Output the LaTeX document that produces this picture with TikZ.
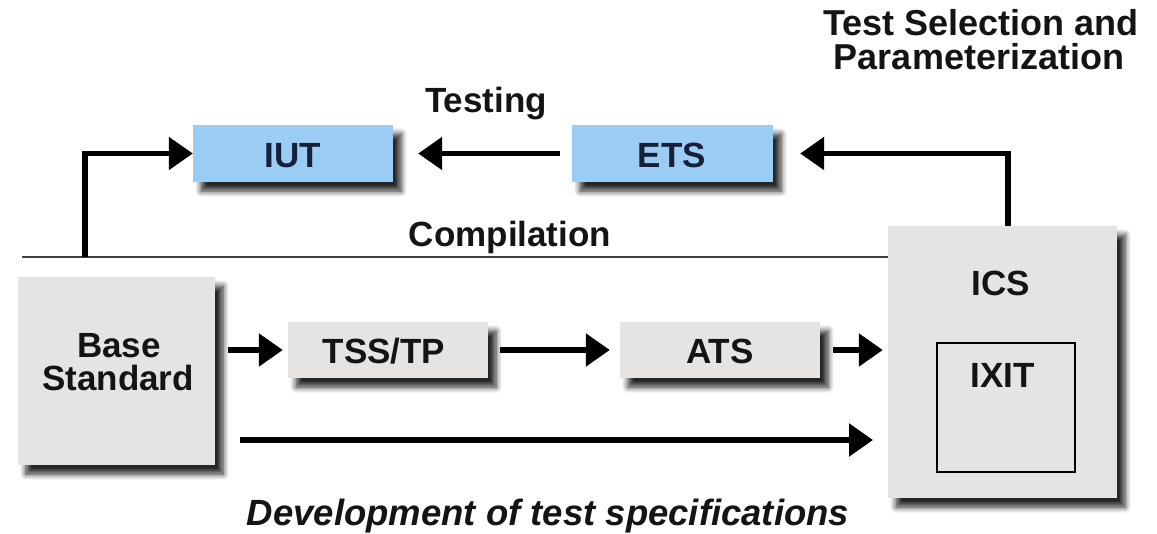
\documentclass[tikz,border=0pt]{standalone}
\usepackage{fontspec}
\setmainfont{Liberation Sans}
\usetikzlibrary{arrows.meta,shadows.blur}
\definecolor{boxblue}{RGB}{155,204,244}
\definecolor{boxgrey}{RGB}{230,228,226}
\definecolor{navytext}{RGB}{22,32,58}
\definecolor{inktext}{RGB}{20,20,20}
\tikzset{
  shade box/.style={inner sep=0pt, blur shadow={shadow xshift=8pt, shadow yshift=-9pt, shadow blur radius=6pt, shadow blur steps=7, shadow opacity=85}},
  bluebox/.style={shade box, fill=boxblue},
  greybox/.style={shade box, fill=boxgrey},
  label/.style={inner sep=0pt, anchor=base, text=inktext, font=\fontsize{35}{33}\selectfont\bfseries, align=center},
  bluelabel/.style={label, text=navytext},
  flow/.style={line width=5.5pt, -{Triangle[length=24pt,width=32pt]}},
  divider/.style={line width=2pt, draw=black!75}
}
\begin{document}
\begin{tikzpicture}[x=1pt,y=-1pt]
\useasboundingbox (0,0) rectangle (1157,533);

% boxes
\node[bluebox, minimum width=200pt, minimum height=57pt] (iut) at (293,153.5) {};
\node[bluebox, minimum width=201pt, minimum height=57pt] (ets) at (672.5,153.5) {};
\node[greybox, minimum width=197pt, minimum height=188pt] (base) at (116.5,371) {};
\node[greybox, minimum width=200pt, minimum height=56pt] (tss) at (388,350) {};
\node[greybox, minimum width=200pt, minimum height=56pt] (ats) at (720,350) {};
\node[greybox, minimum width=229pt, minimum height=272pt] (ics) at (1002.5,362) {};
\node[draw=black, line width=2pt, fill=boxgrey, inner sep=0pt, minimum width=138pt, minimum height=129pt] (ixit) at (1006,407.5) {};

% labels
\node[bluelabel] (iutl) at (293,167) {IUT};
\node[bluelabel] (etsl) at (672,167) {ETS};
\node[label] (testing) at (486,112) {Testing};
\node[label] (compil) at (510,246) {Compilation};
\node[label, font=\fontsize{36}{33}\selectfont\bfseries] (tsel1) at (981,35) {Test Selection and};
\node[label, font=\fontsize{36}{33}\selectfont\bfseries] (tsel2) at (979,69) {Parameterization};
\node[label] (basel1) at (119,357) {Base};
\node[label] (basel2) at (118,390) {Standard};
\node[label] (tssl) at (384,363) {TSS/TP};
\node[label] (atsl) at (720,363) {ATS};
\node[label] (icsl) at (1001,295) {ICS};
\node[label] (ixitl) at (1003,387) {IXIT};
\node[label, font=\fontsize{36.5}{33}\selectfont\bfseries\itshape] (dev) at (548,525) {Development of test specifications};

% compilation divider
\coordinate (divl) at (22,257);
\draw[divider] (divl) -- (divl -| ics.west);

% testing path
\coordinate (up) at (85,257);
\draw[flow] (up) |- (iut.west);
\draw[flow, shorten <=12pt, shorten >=25pt] (ets.west) -- (iut.east);
\coordinate (icstop) at (1008,226);
\draw[flow, shorten >=27pt] (icstop) |- (ets.east);

% development of test specifications
\draw[flow, shorten <=13pt, shorten >=5pt] (base.east |- tss) -- (tss.west);
\draw[flow, shorten <=12pt, shorten >=10pt] (tss.east) -- (ats.west);
\draw[flow, shorten <=13pt, shorten >=5pt] (ats.east) -- (ats.east -| ics.west);
\coordinate (devs) at (240,440);
\coordinate (deve) at (873,440);
\draw[flow] (devs) -- (deve);
\end{tikzpicture}
\end{document}
